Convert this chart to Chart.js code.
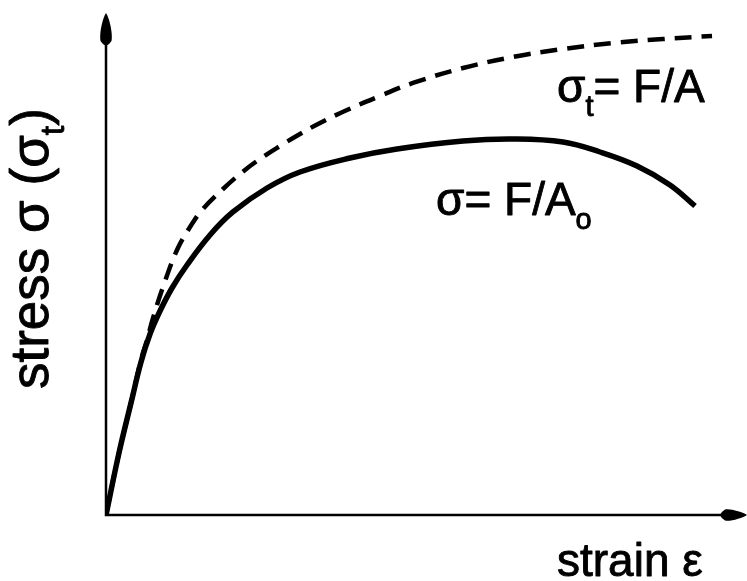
<!DOCTYPE html>
<html>
<head>
<meta charset="utf-8">
<script src="https://cdn.jsdelivr.net/npm/chart.js@4/dist/chart.umd.min.js"></script>
<style>
html,body{margin:0;padding:0;background:#fff;}
#c{display:block;}
</style>
</head>
<body>
<canvas id="c" width="747" height="581"></canvas>
<script>
// Engineering stress curve  sigma = F/A0 (solid)
const engStrain = [0, 2.03, 3.91, 5.48, 6.89, 8.45, 10.33, 12.68, 16.28, 19.87, 25.20, 30.36, 38.19, 45.54, 55.87, 63.69, 71.52, 77.31, 83.10, 88.26, 92.18];
const engStress = [0, 12.35, 22.31, 30.48, 36.06, 40.64, 45.22, 49.80, 55.78, 60.36, 65.14, 68.33, 71.12, 72.91, 74.50, 74.90, 74.30, 72.31, 69.52, 65.74, 61.55];
// True stress curve  sigma_t = F/A (dashed)
const trueStrain = [0, 2.03, 3.91, 5.48, 6.42, 7.36, 8.92, 11.11, 13.15, 15.18, 18.31, 20.97, 23.63, 27.23, 30.36, 33.49, 37.72, 42.88, 48.04, 55.87, 63.69, 71.52, 79.34, 87.17, 94.84];
const trueStress = [0, 12.35, 22.31, 30.88, 34.86, 39.24, 45.42, 52.79, 57.37, 60.96, 64.94, 67.93, 70.52, 73.51, 75.90, 78.09, 80.68, 83.47, 86.06, 89.04, 91.24, 92.83, 94.02, 94.82, 95.42];

const xTitle = "strain ε";
const yTitle = [["stress σ (σ", false], ["t", true], [")", false]];
const trueLabel = [["σ", false], ["t", true], ["= F/A", false]];
const engLabel = [["σ= F/A", false], ["o", true]];

const FONT = '"Liberation Sans", Arial, Helvetica, sans-serif';

function pts(xs, ys){ return xs.map((x,i)=>({x:x, y:ys[i]})); }

function drawText(ctx, t, x, y){
  ctx.fillText(t, x, y);
  ctx.strokeText(t, x, y);
}

function drawRich(ctx, segs, x, y, size){
  let cx = x;
  for (const [t, sub] of segs){
    if (sub){
      ctx.font = Math.round(size*0.64) + 'px ' + FONT;
      drawText(ctx, t, cx, y + size*0.3);
    } else {
      ctx.font = size + 'px ' + FONT;
      drawText(ctx, t, cx, y);
    }
    cx += ctx.measureText(t).width;
  }
}

const decor = {
  id: 'decor',
  afterDraw(chart){
    const ctx = chart.ctx;
    const xs = chart.scales.x, ys = chart.scales.y;
    const x0 = xs.getPixelForValue(0), y0 = ys.getPixelForValue(0);
    const xEnd = xs.right, yTop = ys.top;
    ctx.save();
    ctx.strokeStyle = '#000'; ctx.fillStyle = '#000';
    ctx.lineWidth = 2.5; ctx.lineCap = 'round';
    // axes
    ctx.beginPath();
    ctx.moveTo(x0, yTop + 20); ctx.lineTo(x0, y0); ctx.lineTo(xEnd - 14, y0);
    ctx.stroke();
    // y arrow head (teardrop)
    ctx.beginPath();
    ctx.moveTo(x0, yTop);
    ctx.bezierCurveTo(x0 + 3, yTop + 4, x0 + 7, yTop + 20, x0 + 5.5, yTop + 28);
    ctx.quadraticCurveTo(x0 + 3, yTop + 32, x0, yTop + 33);
    ctx.quadraticCurveTo(x0 - 3, yTop + 32, x0 - 5.5, yTop + 28);
    ctx.bezierCurveTo(x0 - 7, yTop + 20, x0 - 3, yTop + 4, x0, yTop);
    ctx.fill();
    // x arrow head
    const xr = xEnd + 2;
    ctx.beginPath();
    ctx.moveTo(xr, y0);
    ctx.bezierCurveTo(xr - 4, y0 - 3, xr - 18, y0 - 7, xr - 22, y0 - 5.5);
    ctx.quadraticCurveTo(xr - 26, y0 - 3, xr - 27, y0);
    ctx.quadraticCurveTo(xr - 26, y0 + 3, xr - 22, y0 + 5.5);
    ctx.bezierCurveTo(xr - 18, y0 + 7, xr - 4, y0 + 3, xr, y0);
    ctx.fill();
    // titles
    ctx.lineWidth = 0.9; ctx.lineJoin = 'round';
    ctx.textBaseline = 'alphabetic';
    ctx.textAlign = 'left';
    ctx.font = '46px ' + FONT;
    drawText(ctx, xTitle, 557, 576);
    ctx.save();
    ctx.translate(48, 389);
    ctx.rotate(-Math.PI/2);
    drawRich(ctx, yTitle, 0, 0, 53);
    ctx.restore();
    // curve labels
    drawRich(ctx, trueLabel, 557, 102, 46);
    drawRich(ctx, engLabel, 436, 215, 46);
    ctx.restore();
  }
};

new Chart(document.getElementById('c'), {
  type: 'scatter',
  data: {
    datasets: [
      { label: 'σ = F/A0', data: pts(engStrain, engStress), showLine: true,
        borderColor: '#000', borderWidth: 5.5, pointRadius: 0, tension: 0.4,
        fill: false },
      { label: 'σt = F/A', data: pts(trueStrain, trueStress), showLine: true,
        borderColor: '#000', borderWidth: 4.5, borderDash: [17, 10], pointRadius: 0,
        tension: 0.4, fill: false }
    ]
  },
  options: {
    responsive: false, animation: false, devicePixelRatio: 1,
    layout: { padding: { left: 106, right: 2, top: 13, bottom: 66 } },
    plugins: { legend: { display: false }, tooltip: { enabled: false } },
    scales: {
      x: { type: 'linear', min: 0, max: 100, display: false },
      y: { type: 'linear', min: 0, max: 100, display: false }
    }
  },
  plugins: [decor]
});
</script>
</body>
</html>
